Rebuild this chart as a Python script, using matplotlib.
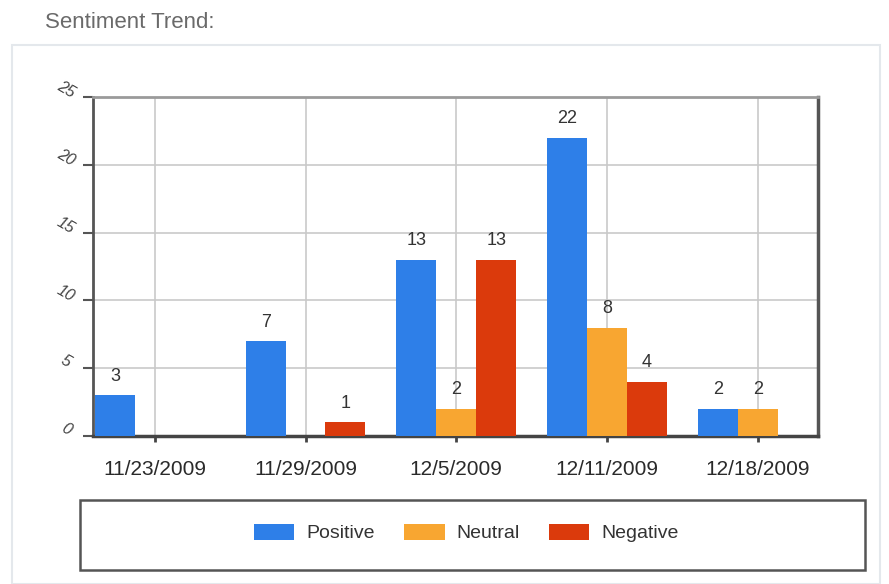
import numpy as np
import matplotlib
matplotlib.use('Agg')
import matplotlib.pyplot as plt
from matplotlib.patches import Rectangle
import matplotlib.transforms as mtransforms

plt.rcParams['font.family'] = ['Liberation Sans', 'DejaVu Sans']

# chart data
dates = ['11/23/2009', '11/29/2009', '12/5/2009', '12/11/2009', '12/18/2009']
positive = [3, 7, 13, 22, 2]
neutral = [0, 0, 2, 8, 2]
negative = [0, 1, 13, 4, 0]
series_names = ['Positive', 'Neutral', 'Negative']
series_colors = ['#2e7fe8', '#f8a631', '#db3a0c']
y_ticks = [0, 5, 10, 15, 20, 25]

fig = plt.figure(figsize=(8.89, 5.84), dpi=100)

# outer light panel and title
fig.patches.append(Rectangle((12 / 889, 0.0), 868 / 889, (584 - 45) / 584,
                             transform=fig.transFigure, fill=False,
                             edgecolor='#e4e8ec', linewidth=1.5, zorder=-1))
fig.text(45 / 889, 1 - 22 / 584, 'Sentiment Trend:', fontsize=16,
         color='#6a6a6a', ha='left', va='center')

ax = fig.add_axes([93 / 889, 148 / 584, 725 / 889, 339 / 584])

x = np.arange(len(dates))
width = 0.265
all_series = [positive, neutral, negative]
for i, (vals, name, col) in enumerate(zip(all_series, series_names, series_colors)):
    bars = ax.bar(x + (i - 1) * width, vals, width, color=col, label=name, zorder=3)
    for b, v in zip(bars, vals):
        if v > 0:
            ax.annotate('{}'.format(v), (b.get_x() + b.get_width() / 2, v),
                        xytext=(0, 7.5), textcoords='offset points',
                        ha='center', va='bottom', fontsize=13, color='#333333')

ax.set_xlim(-0.41, 4.40)
ax.set_ylim(0, 25)
ax.set_xticks(x)
ax.set_xticklabels(dates, fontsize=15, color='#2a2a2a')
ax.set_yticks(y_ticks)
ax.set_yticklabels([])
ax.tick_params(axis='x', length=4, width=2, color='#444444', pad=13)
ax.tick_params(axis='y', length=7, width=1.5, color='#555555')

# slanted y tick labels
off = mtransforms.offset_copy(ax.transData, fig=fig, x=-27, y=7, units='dots')
for t in y_ticks:
    ax.text(ax.get_xlim()[0], t, '{}'.format(t), transform=off, fontsize=11.5,
            style='italic', rotation=-30, color='#444444',
            ha='center', va='center', rotation_mode='anchor')

ax.grid(True, color='#c9c9c9', linewidth=1.2, zorder=0)
ax.set_axisbelow(True)
for side, lw, col in [('left', 2, '#555555'), ('bottom', 2.5, '#444444'),
                      ('right', 2.5, '#555555'), ('top', 2, '#9a9a9a')]:
    ax.spines[side].set_linewidth(lw)
    ax.spines[side].set_color(col)

# legend box
fig.patches.append(Rectangle((80 / 889, 14 / 584), 785 / 889, 70 / 584,
                             transform=fig.transFigure, fill=False,
                             edgecolor='#555555', linewidth=1.8))
fig.legend(loc='center', bbox_to_anchor=(466 / 889, 51 / 584), ncol=3,
           frameon=False, fontsize=14, handlelength=2.1, handleheight=0.9,
           columnspacing=1.5, handletextpad=0.6, labelcolor='#333333')

fig.savefig('out.png', dpi=100)
